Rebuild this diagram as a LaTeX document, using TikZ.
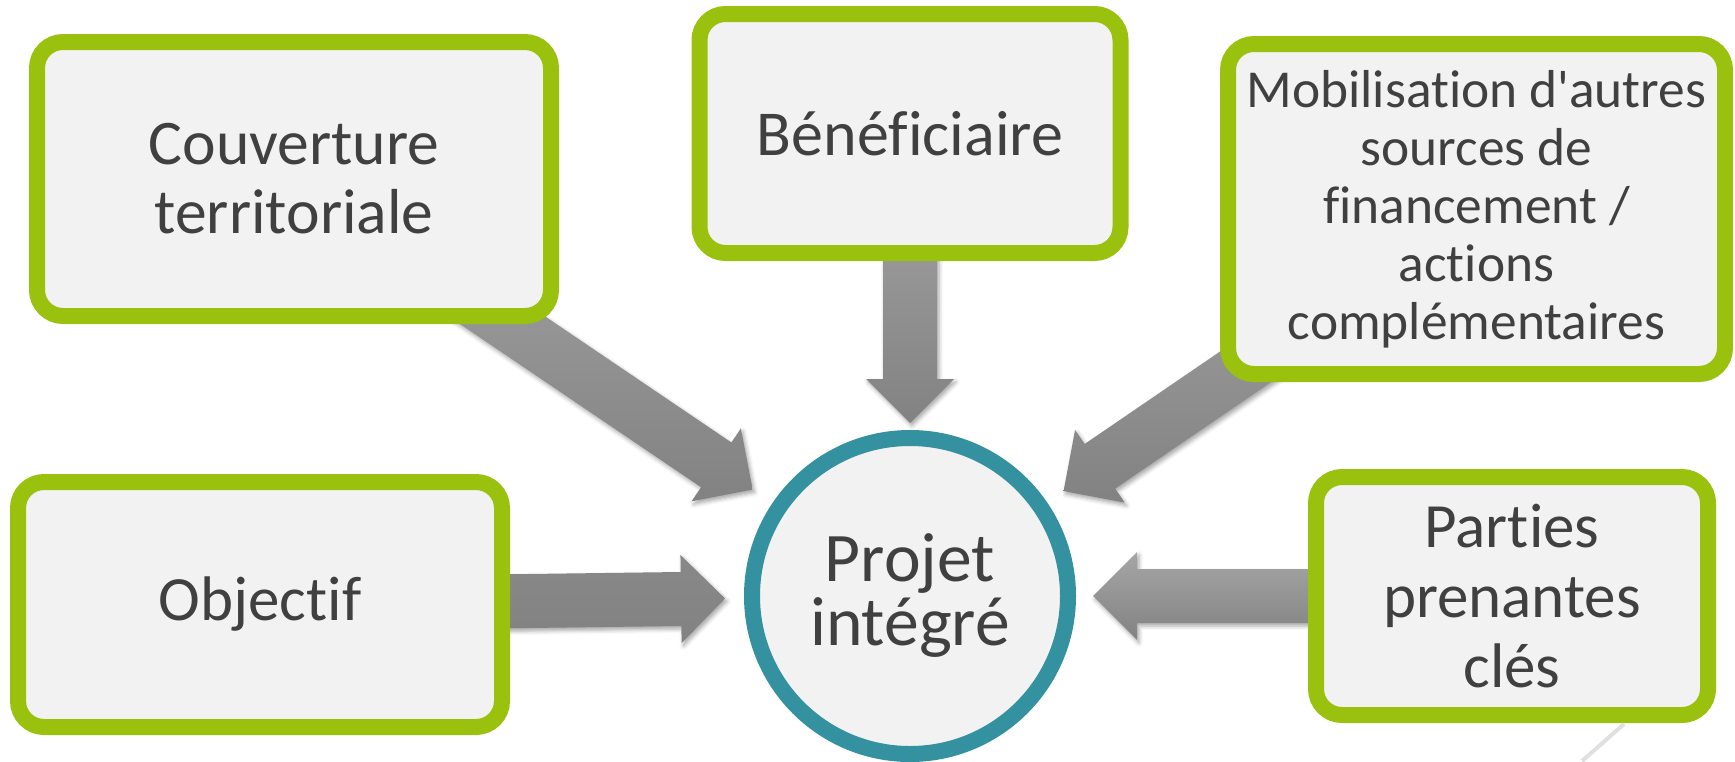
\documentclass[tikz,border=0pt]{standalone}
\usepackage{fontspec}
\setmainfont{Carlito}[Ligatures={NoCommon,NoRequired,NoContextual}]
\usetikzlibrary{calc,backgrounds,shadows.blur}
\definecolor{boxgreen}{RGB}{153,193,14}
\definecolor{hubteal}{RGB}{51,145,160}
\definecolor{boxfill}{RGB}{242,242,242}
\definecolor{txtgray}{RGB}{64,64,64}
\definecolor{arrowlight}{RGB}{166,166,166}
\definecolor{arrowdark}{RGB}{130,130,130}

\tikzset{
  box/.style={draw=boxgreen,line width=8pt,fill=boxfill,rounded corners=13pt,
    text=txtgray,align=center,inner sep=0pt},
  hub/.style={circle,draw=hubteal,line width=8pt,fill=boxfill,
    text=txtgray,align=center,inner sep=0pt,minimum size=158pt},
  arrowshadow/.style={blur shadow={shadow xshift=1pt,shadow yshift=-1.5pt,
    shadow blur radius=2pt,shadow opacity=35}}
}

% block arrow from one node towards another, stopping #4 short of its centre
\newcommand{\bigarrow}[4][arrowlight]{%
\coordinate (atip) at ($(#3.center)!#4!(#2.center)$);
\coordinate (abase) at ($(atip)!22pt!(#2.center)$);
\path[top color=#1,bottom color=arrowdark,arrowshadow]
  ($(#2.center)!13.5pt!90:(atip)$) -- ($(abase)!13.5pt!90:(atip)$)
  -- ($(abase)!22pt!90:(atip)$) -- (atip) -- ($(abase)!22pt!-90:(atip)$)
  -- ($(abase)!13.5pt!-90:(atip)$) -- ($(#2.center)!13.5pt!-90:(atip)$) -- cycle;
}

\begin{document}
\begin{tikzpicture}[x=0.5pt,y=-0.5pt]
\useasboundingbox (0,0) rectangle (1735,761);

% centre
\node[hub,font=\fontsize{34.8}{32}\selectfont] (proj) at (910,596) {Projet\\intégré};

% boxes
\node[box,minimum width=257pt,minimum height=137pt,font=\fontsize{31.8}{34.5}\selectfont]
  (couv) at (294,179) {Couverture\\territoriale};
\node[box,minimum width=210.5pt,minimum height=119.5pt,font=\fontsize{32}{34}\selectfont]
  (benef) at (910,133.5) {Bénéficiaire};
\node[box,minimum width=248.5pt,minimum height=165pt,font=\fontsize{26.7}{29}\selectfont]
  (mobil) at (1476.5,209) {Mobilisation d\textquotesingle autres\\sources de\\financement /\\actions\\complémentaires};
\node[box,minimum width=242pt,minimum height=122.5pt,font=\fontsize{31.5}{34}\selectfont]
  (objec) at (260,604.5) {Objectif};
\node[box,minimum width=196pt,minimum height=119pt,font=\fontsize{31.5}{35}\selectfont]
  (parti) at (1512,596) {Parties\\prenantes\\clés};

% arrows
\begin{scope}[on background layer]
\bigarrow{couv}{proj}{95pt}
\bigarrow{benef}{proj}{86.5pt}
\bigarrow{mobil}{proj}{93pt}
\bigarrow[arrowdark!95!white]{objec}{proj}{92.5pt}
\bigarrow{parti}{proj}{91.5pt}
\end{scope}

% faint trace below the last box
\draw[black!12,line width=2pt] (1624,724) -- (1582,761);
\end{tikzpicture}
\end{document}
